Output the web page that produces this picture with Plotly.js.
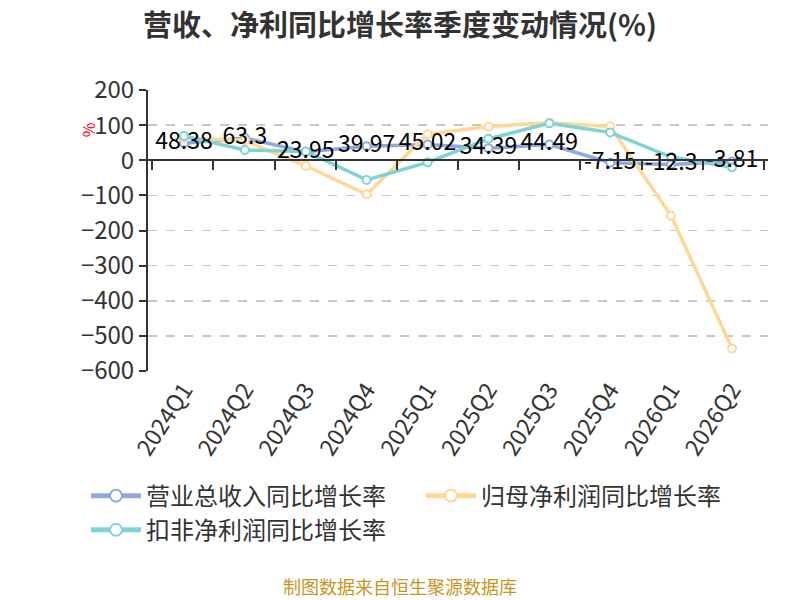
<!DOCTYPE html>
<html>
<head>
<meta charset="utf-8">
<script src="https://cdn.plot.ly/plotly-3.0.1.min.js"></script>
<style>
  html, body { margin: 0; padding: 0; background: #fff; }
  #chart { width: 800px; height: 600px; }
</style>
</head>
<body>
<div id="chart"></div>
<script>
// quarters and yoy growth rates (%)
var quarters = ['2024Q1', '2024Q2', '2024Q3', '2024Q4', '2025Q1', '2025Q2', '2025Q3', '2025Q4', '2026Q1', '2026Q2'];
var revenueYoy = [48.38, 63.3, 23.95, 39.97, 45.02, 34.39, 44.49, -7.15, -12.3, -3.81];
var netProfitYoy = [63, 56, -16, -97, 74, 96, 107, 96, -158, -536];
var deductedProfitYoy = [69, 29, 25, -56, -6, 61, 105, 79, 9, -20];

var seriesNames = ['营业总收入同比增长率', '归母净利润同比增长率', '扣非净利润同比增长率'];
var colors = ['#8eaadc', '#ffd796', '#7fd3d6'];
var yRange = [-600, 200];

var font = '"Noto Sans CJK SC", "Noto Sans", sans-serif';

function lineTrace(y, i) {
  return {
    x: quarters,
    y: y,
    name: seriesNames[i],
    type: 'scatter',
    mode: 'lines+markers',
    line: { color: colors[i], width: 3.5 },
    marker: { symbol: 'circle', size: 8, color: '#fff', line: { color: colors[i], width: 2 } },
    hoverinfo: 'x+y',
  };
}

var plot_data = [
  lineTrace(revenueYoy, 0),
  lineTrace(netProfitYoy, 1),
  lineTrace(deductedProfitYoy, 2),
];

// value labels of revenue series, drawn on top of all lines
plot_data.push({
  x: quarters,
  y: revenueYoy,
  type: 'scatter',
  mode: 'text',
  text: revenueYoy.map(String),
  textposition: 'middle center',
  textfont: { family: font, size: 23, color: '#000' },
  showlegend: false,
  hoverinfo: 'skip',
});

// helper trace so the zero axis (with boundary ticks) exists
plot_data.push({
  x: quarters,
  y: revenueYoy,
  xaxis: 'x2',
  type: 'scatter',
  mode: 'markers',
  marker: { opacity: 0 },
  showlegend: false,
  hoverinfo: 'skip',
});

var layout = {
  width: 800,
  height: 600,
  paper_bgcolor: '#fff',
  plot_bgcolor: '#fff',
  font: { family: font, color: '#333' },
  margin: { t: 90, r: 32, l: 148, b: 229 },
  title: {
    text: '<b>营收、净利同比增长率季度变动情况(%)</b>',
    font: { family: font, size: 29, color: '#333' },
    x: 0.5, xanchor: 'center',
    y: 0.957, yanchor: 'middle',
  },
  xaxis: {
    type: 'category',
    categoryarray: quarters,
    showgrid: false,
    showline: false,
    zeroline: false,
    ticks: '',
    tickangle: -57,
    tickfont: { family: font, size: 23, color: '#333' },
    fixedrange: true,
  },
  xaxis2: {
    type: 'category',
    categoryarray: quarters,
    overlaying: 'x',
    anchor: 'free',
    position: (0 - yRange[0]) / (yRange[1] - yRange[0]),
    showgrid: false,
    showticklabels: false,
    showline: true,
    linecolor: '#333',
    linewidth: 2,
    ticks: 'outside',
    tickson: 'boundaries',
    ticklen: 9,
    tickwidth: 2,
    tickcolor: '#333',
    zeroline: false,
    fixedrange: true,
  },
  yaxis: {
    range: yRange,
    dtick: 100,
    showline: true,
    linecolor: '#333',
    linewidth: 2,
    ticks: 'outside',
    ticklen: 7,
    tickwidth: 2,
    tickcolor: '#333',
    showgrid: true,
    gridcolor: '#c8c8c8',
    griddash: 'dash',
    gridwidth: 1.5,
    zeroline: false,
    tickfont: { family: font, size: 24, color: '#333' },
    fixedrange: true,
  },
  showlegend: true,
  legend: {
    orientation: 'h',
    x: -0.1, xanchor: 'left',
    y: -0.365, yanchor: 'top',
    font: { family: font, size: 24, color: '#333' },
    entrywidth: 270,
    itemwidth: 50,
    itemsizing: 'constant',
  },
  annotations: [
    {
      text: '%',
      xref: 'paper', yref: 'paper',
      x: -0.097, y: 0.86,
      xanchor: 'center', yanchor: 'middle',
      showarrow: false,
      textangle: -90,
      font: { family: font, size: 16, color: '#f00' },
    },
    {
      text: '制图数据来自恒生聚源数据库',
      xref: 'paper', yref: 'paper',
      x: (400 - 148) / 620, y: -0.765,
      xanchor: 'center', yanchor: 'middle',
      showarrow: false,
      font: { family: font, size: 18, color: '#c8961e' },
    },
  ],
};

var config = { displayModeBar: false, responsive: false, staticPlot: true };

Plotly.newPlot('chart', plot_data, layout, config);
</script>
</body>
</html>
